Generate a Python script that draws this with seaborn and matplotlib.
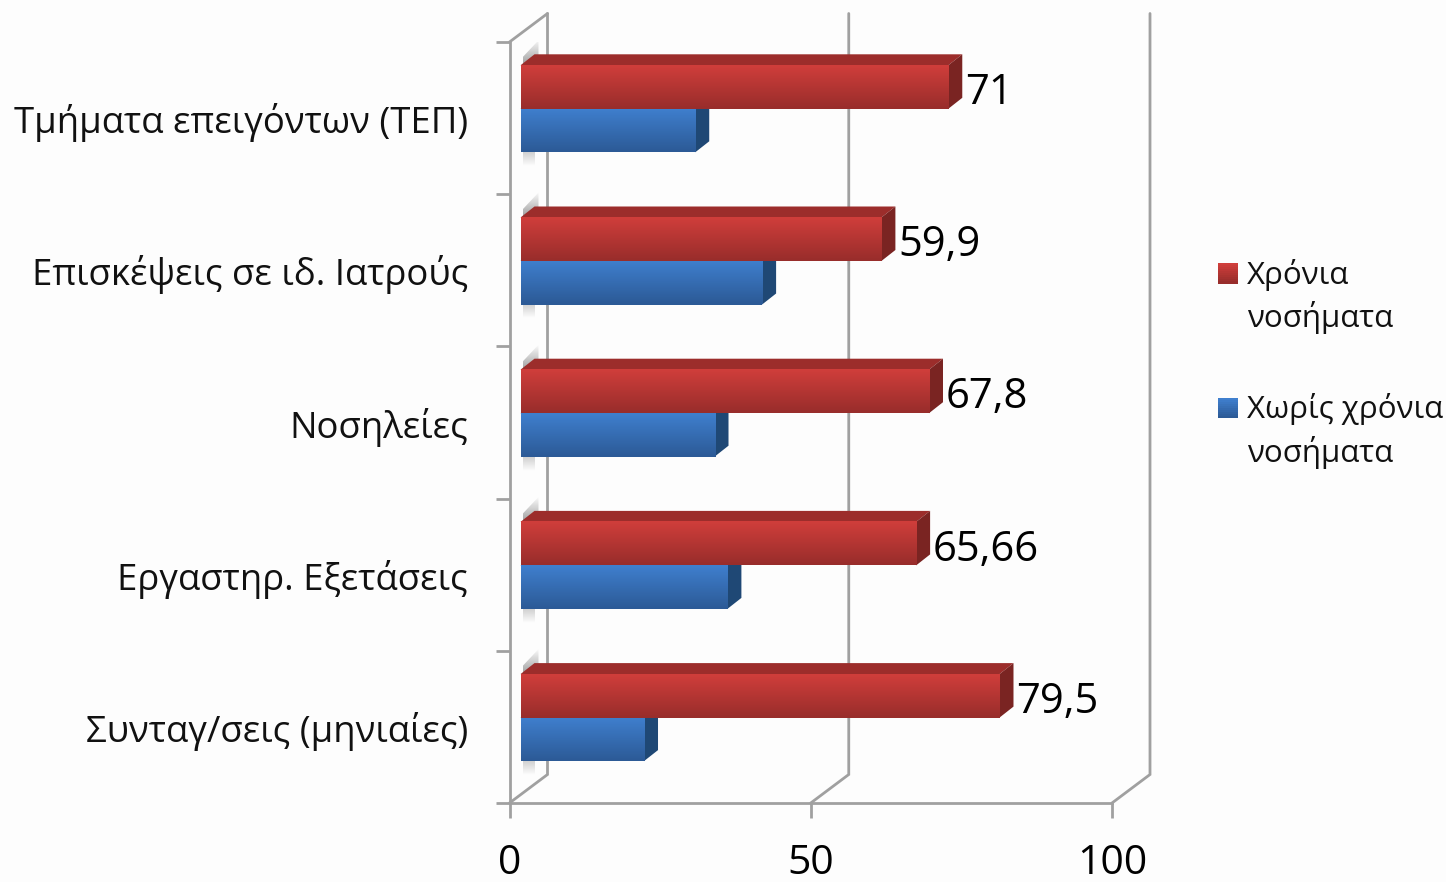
# Horizontal "3D look" bars: chronic vs no chronic disease
import numpy as np
import pandas as pd
import matplotlib
matplotlib.use("Agg")
import matplotlib.pyplot as plt
import seaborn as sns
from matplotlib.colors import LinearSegmentedColormap, to_rgb
from matplotlib.legend_handler import HandlerBase
from matplotlib.patches import Patch, Polygon, Rectangle

categories = ["Τμήματα επειγόντων (ΤΕΠ)", "Επισκέψεις σε ιδ. Ιατρούς", "Νοσηλείες",
              "Εργαστηρ. Εξετάσεις", "Συνταγ/σεις (μηνιαίες)"]
chronic = [71, 59.9, 67.8, 65.66, 79.5]
no_chronic = [29, 40.1, 32.2, 34.34, 20.5]
chronic_labels = ["71", "59,9", "67,8", "65,66", "79,5"]
x_ticks = [0, 50, 100]
series_names = ["Χρόνια\nνοσήματα", "Χωρίς χρόνια\nνοσήματα"]

W, H = 1446, 882
GREY = "#a0a0a0"
BG = "#fdfdfd"
# front, top/side shades for each series
SHADES = {
    series_names[0]: dict(light="#d03e3b", dark="#982d2b", top="#9c2d2b", side="#7a2422"),
    series_names[1]: dict(light="#3f7fce", dark="#2c5a96", top="#2c5a96", side="#1f4875"),
}

sns.set_style("white")
plt.rcParams["font.family"] = ["Open Sans", "DejaVu Sans"]

df = pd.DataFrame({"category": categories,
                   series_names[0]: chronic,
                   series_names[1]: no_chronic})
long_df = df.melt(id_vars="category", var_name="series", value_name="value")

fig = plt.figure(figsize=(W / 100, H / 100), dpi=100, facecolor=BG)
ax = fig.add_axes([509.5 / W, 1 - 803 / H, 602.5 / W, 761 / H], facecolor="none")

sns.barplot(data=long_df, y="category", x="value", hue="series", orient="h",
            hue_order=series_names, width=87 / 152.2, ax=ax, legend=False,
            saturation=1, palette=[SHADES[s]["dark"] for s in series_names])
ax.set_xlim(0, 100)
ax.set_ylim(4.5, -0.5)
ax.set_xlabel("")
ax.set_ylabel("")

# pixel sizes turned into data units
px_x = 100 / 602.5
px_y = 5 / 761
SHIFT_X, SHIFT_Y = 11 * px_x, -9.3 * px_y
DEPTH_X, DEPTH_Y = 14 * px_x, -11 * px_y
WALL_X, WALL_Y = 38 * px_x, -28.5 * px_y

# axes and back wall
for spine in ["top", "right"]:
    ax.spines[spine].set_visible(False)
for spine in ["left", "bottom"]:
    ax.spines[spine].set_color(GREY)
    ax.spines[spine].set_linewidth(2)
    ax.spines[spine].set_zorder(1)

for xv in x_ticks:
    ax.plot([xv, xv + WALL_X, xv + WALL_X], [4.5, 4.5 + WALL_Y, -0.5 + WALL_Y],
            color=GREY, lw=2, clip_on=False, zorder=1, solid_joinstyle="miter")
ax.plot([0, WALL_X], [-0.5, -0.5 + WALL_Y], color=GREY, lw=2, clip_on=False, zorder=1)

ax.set_xticks(x_ticks)
ax.tick_params(axis="x", direction="out", length=11, width=2, color=GREY, bottom=True,
               labelsize=29.5, pad=18, labelcolor="black")
ax.set_yticks(range(len(categories)), categories)
ax.tick_params(axis="y", which="major", length=0, pad=30, labelsize=26.3, labelcolor="#111111")
ax.set_yticks(np.arange(-0.5, 5), minor=True)
ax.tick_params(axis="y", which="minor", direction="out", left=True, length=10, width=2, color=GREY)


def gradient(x0, x1, y0, y1, light, dark, zorder):
    cmap = LinearSegmentedColormap.from_list("bar", [light, dark])
    ax.imshow(np.linspace(0, 1, 64)[:, None], extent=(x0, x1, y1, y0), cmap=cmap,
              aspect="auto", origin="upper", zorder=zorder, interpolation="bilinear")


def wall_shadow(x0, x1, y_edge, y_far, strength, zorder=1.5):
    # soft grey smear on the wall next to a bar end
    alpha = np.linspace(strength, 0, 32)[:, None]
    rgba = np.dstack([np.full((32, 1), 0.5)] * 3 + [alpha])
    y_low, y_high = min(y_edge, y_far), max(y_edge, y_far)
    rows = rgba if y_far > y_edge else rgba[::-1]
    return ax.imshow(rows, extent=(x0, x1, y_high, y_low), aspect="auto", origin="upper",
                     zorder=zorder, interpolation="bilinear")


# barplot gives the bars, the solid faces get built on top of them
n = len(categories)
for i, series in enumerate(series_names):
    shade = SHADES[series]
    base_z = 5 - i * 2  # red sits over the blue bar
    for patch in ax.patches[i * n:(i + 1) * n]:
        patch.set_x(patch.get_x() + SHIFT_X)
        patch.set_y(patch.get_y() + SHIFT_Y)
        patch.set_zorder(base_z)
        patch.set_edgecolor("none")
        x0, x1 = patch.get_x(), patch.get_x() + patch.get_width()
        y0, y1 = patch.get_y(), patch.get_y() + patch.get_height()
        gradient(x0, x1, y0, y1, shade["light"], shade["dark"], base_z + 0.2)
        ax.add_patch(Polygon([(x0, y0), (x0 + DEPTH_X, y0 + DEPTH_Y), (x1 + DEPTH_X, y0 + DEPTH_Y), (x1, y0)],
                             facecolor=shade["top"], edgecolor="none", zorder=base_z))
        ax.add_patch(Polygon([(x1, y0), (x1 + DEPTH_X, y0 + DEPTH_Y), (x1 + DEPTH_X, y1 + DEPTH_Y), (x1, y1)],
                             facecolor=shade["side"], edgecolor="none", zorder=base_z))
        if i == 0:
            sx0, sx1 = x0 + 2 * px_x, x0 + 18 * px_x
            im = wall_shadow(sx0, sx1, y0, y0 - 26 * px_y, 0.75)
            im.set_clip_path(Polygon([(sx0, y0), (sx1, y0 - 9 * px_y), (sx1, y0 - 25 * px_y), (sx0, y0 - 8 * px_y)],
                                     transform=ax.transData))
        else:
            wall_shadow(x0 + 2 * px_x, x0 + DEPTH_X, y1, y1 + 14 * px_y, 0.35)

# value labels only for the red series
for patch, label in zip(ax.patches[:n], chronic_labels):
    ax.text(patch.get_x() + patch.get_width() + DEPTH_X + 3 * px_x,
            patch.get_y() + patch.get_height() / 2 + 6 * px_y,
            label, fontsize=30, va="center", ha="left", color="black", zorder=10)

ax.set_xlim(0, 100)
ax.set_ylim(4.5, -0.5)


class GradientSquare(HandlerBase):
    def __init__(self, light, dark):
        super().__init__()
        self.light, self.dark = np.array(to_rgb(light)), np.array(to_rgb(dark))

    def create_artists(self, legend, orig_handle, xdescent, ydescent, width, height, fontsize, trans):
        steps = 10
        side = 14.4
        artists = []
        for k in range(steps):
            color = self.light + (self.dark - self.light) * k / (steps - 1)
            artists.append(Rectangle((10, 17.5 + side * (steps - 1 - k) / steps), side, side / steps + 0.3,
                                     facecolor=color, edgecolor="none", transform=trans))
        return artists


handles = [Patch(label=s) for s in series_names]
leg = ax.legend(handles=handles, labels=series_names, frameon=False, fontsize=22.5,
                loc="upper left", bbox_to_anchor=(1204 / W, 1 - 259 / H),
                bbox_transform=fig.transFigure, handlelength=0.9, handleheight=0.9,
                handletextpad=0.47, labelspacing=1.89, borderpad=0, borderaxespad=0,
                handler_map={handles[i]: GradientSquare(SHADES[s]["light"], SHADES[s]["dark"])
                             for i, s in enumerate(series_names)})
for text in leg.get_texts():
    text.set_color("#111111")
    text.set_linespacing(1.4)

fig.savefig("out.png", dpi=100, facecolor=BG)
